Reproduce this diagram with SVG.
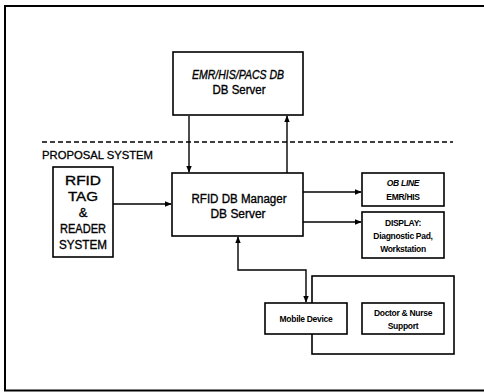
<svg xmlns="http://www.w3.org/2000/svg" width="484" height="392" viewBox="0 0 484 392">
<style>
.box{fill:#fff;stroke:#000;stroke-width:1.6}
.ln{fill:none;stroke:#000;stroke-width:1.4}
.t{font-family:"Liberation Sans Narrow","Liberation Sans",Arial,sans-serif;fill:#000;text-anchor:middle}
.big{font-size:12.5px;stroke:#000;stroke-width:0.35}
.sm{font-size:8.5px;font-weight:bold;letter-spacing:-0.3px}
</style>
<defs>
<marker id="ah" viewBox="0 0 10 10" refX="9" refY="5" markerWidth="7" markerHeight="7" orient="auto-start-reverse" markerUnits="userSpaceOnUse">
<path d="M0,1 L10,5 L0,9 Z" fill="#000"/>
</marker>
</defs>
<rect x="5" y="6" width="490" height="384.5" fill="none" stroke="#000" stroke-width="2"/>
<line x1="42" y1="142" x2="453" y2="142" stroke="#000" stroke-width="1.3" stroke-dasharray="5,3"/>
<text class="t" x="42" y="159" style="text-anchor:start;font-size:11.5px;stroke:#000;stroke-width:0.3" textLength="111" lengthAdjust="spacingAndGlyphs">PROPOSAL SYSTEM</text>

<g id="connectors">
<line class="ln" x1="189" y1="116" x2="189" y2="172" marker-end="url(#ah)"/>
<line class="ln" x1="287" y1="173" x2="287" y2="116" marker-end="url(#ah)"/>
<line class="ln" x1="113" y1="204" x2="171" y2="204" marker-end="url(#ah)"/>
<line class="ln" x1="303" y1="192" x2="361" y2="192" marker-end="url(#ah)"/>
<line class="ln" x1="303" y1="222" x2="361" y2="222" marker-end="url(#ah)"/>
<polyline class="ln" points="238,237 238,270 306,270 306,302" marker-start="url(#ah)" marker-end="url(#ah)"/>
</g>

<g id="emr">
<rect class="box" x="173" y="52" width="130" height="63"/>
<text class="t big" x="238" y="79" font-style="italic" textLength="92" lengthAdjust="spacingAndGlyphs">EMR/HIS/PACS DB</text>
<text class="t big" x="239" y="94" textLength="53" lengthAdjust="spacingAndGlyphs">DB Server</text>
</g>

<g id="rfid">
<rect class="box" x="53" y="167" width="60" height="90"/>
<text class="t big" x="83" y="185" style="font-size:13px" textLength="36" lengthAdjust="spacingAndGlyphs">RFID</text>
<text class="t big" x="83" y="201" style="font-size:13px" textLength="30" lengthAdjust="spacingAndGlyphs">TAG</text>
<text class="t big" x="83" y="217" style="font-size:13px">&amp;</text>
<text class="t big" x="83" y="233" style="font-size:13px" textLength="46" lengthAdjust="spacingAndGlyphs">READER</text>
<text class="t big" x="83" y="249" style="font-size:13px" textLength="48" lengthAdjust="spacingAndGlyphs">SYSTEM</text>
</g>

<g id="manager">
<rect class="box" x="172" y="173" width="131" height="63"/>
<text class="t big" x="239" y="203" textLength="95" lengthAdjust="spacingAndGlyphs">RFID DB Manager</text>
<text class="t big" x="238" y="218" textLength="55" lengthAdjust="spacingAndGlyphs">DB Server</text>
</g>

<g id="online">
<rect class="box" x="362" y="173" width="82" height="33"/>
<text class="t sm" x="403" y="186" font-style="italic">OB LINE</text>
<text class="t sm" x="403" y="200">EMR/HIS</text>
</g>

<g id="display">
<rect class="box" x="362" y="212" width="82" height="46"/>
<text class="t sm" x="403" y="226">DISPLAY:</text>
<text class="t sm" x="403" y="239">Diagnostic Pad,</text>
<text class="t sm" x="403" y="252">Workstation</text>
</g>

<g id="clinic">
<rect class="box" x="312" y="276" width="142" height="78"/>
</g>

<g id="mobile">
<rect class="box" x="265" y="303" width="82" height="31"/>
<text class="t sm" x="306" y="322">Mobile Device</text>
</g>

<g id="doctor">
<rect class="box" x="362" y="303" width="82" height="31"/>
<text class="t sm" x="403" y="316">Doctor &amp; Nurse</text>
<text class="t sm" x="403" y="329">Support</text>
</g>
</svg>
